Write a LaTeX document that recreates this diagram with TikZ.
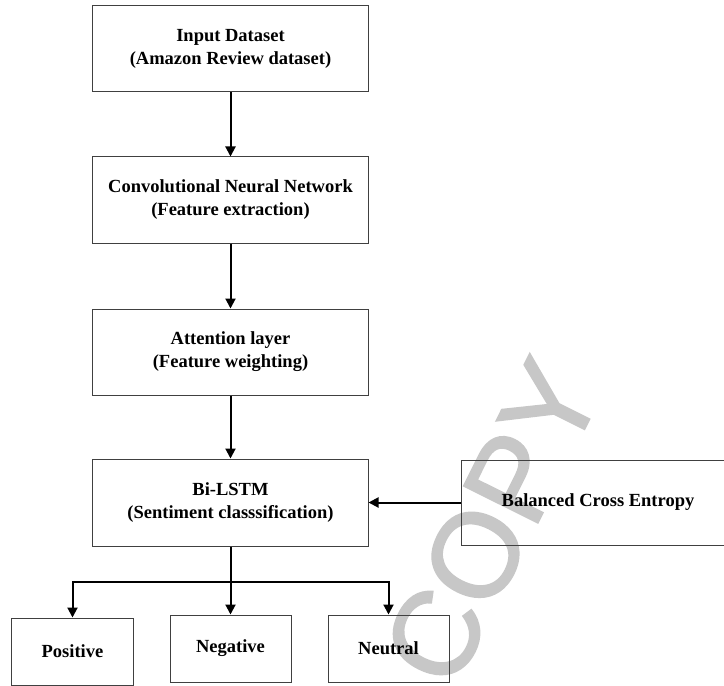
\documentclass[tikz,border=0pt]{standalone}
\usepackage{fontspec}
\setmainfont{Liberation Serif}
\newfontfamily\markfont[FakeBold=1.5]{Liberation Sans}
\usetikzlibrary{arrows.meta}
\begin{document}
\begin{tikzpicture}[x=1bp,y=-1bp,
  box/.style={draw=black!75,line width=1bp,fill=none,inner sep=0pt,align=center,
    font=\fontsize{18.5bp}{23bp}\selectfont\bfseries},
  mainbox/.style={box,minimum width=275bp,minimum height=86bp},
  leafbox/.style={box,minimum width=121bp,minimum height=67bp},
  arr/.style={draw=black,line width=2bp,-{Triangle[length=10bp,width=10bp]}},
  link/.style={draw=black,line width=2bp}]
\useasboundingbox (0,0) rectangle (724,686);
\fill[white] (0,0) rectangle (724,686);
% watermark behind the diagram
\node[text=black!22,rotate=63.5,inner sep=0pt,font=\markfont\fontsize{120bp}{120bp}\selectfont] (mark) at (492,522) {COPY};
% pipeline
\node[mainbox] (input) at (230.5,49) {Input Dataset\\(Amazon Review dataset)};
\node[mainbox] (cnn) at (230.5,200) {Convolutional Neural Network\\(Feature extraction)};
\node[mainbox] (att) at (230.5,352) {Attention layer\\(Feature weighting)};
\node[mainbox,minimum height=87bp] (bilstm) at (230.5,502.5) {Bi-LSTM\\(Sentiment classsification)};
\node[box,minimum width=274bp,minimum height=85bp] (bce) at (598,502.5) {Balanced Cross Entropy};
% outputs
\node[leafbox] (pos) at (72.5,651.5) {Positive};
\node[leafbox] (neg) at (230.5,648.5) {Negative};
\node[leafbox] (neu) at (388.5,648.5) {Neutral};
\coordinate (split) at (230.5,582);
% connectors
\draw[arr] (input.south) -- (cnn.north);
\draw[arr] (cnn.south) -- (att.north);
\draw[arr] (att.south) -- (bilstm.north);
\draw[arr] (bce.west) -- (bilstm.east);
\draw[link] (bilstm.south) -- (split);
\draw[arr] (split) -| (pos.north);
\draw[arr] (split) -- (neg.north);
\draw[arr] (split) -| (neu.north);
\end{tikzpicture}
\end{document}
